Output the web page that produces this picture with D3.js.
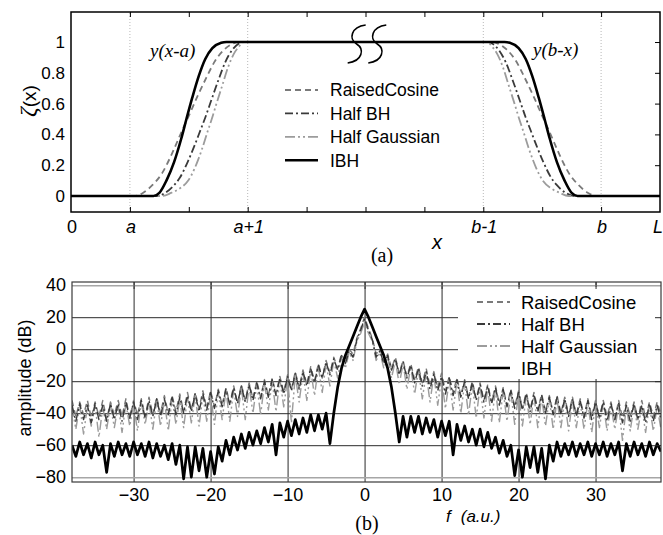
<!DOCTYPE html>
<html>
<head>
<meta charset="utf-8">
<script src="https://cdn.jsdelivr.net/npm/d3@7"></script>
<style>
  html, body { margin: 0; padding: 0; background: #fff; }
  svg { display: block; }
  text { font-family: "Liberation Sans", Arial, sans-serif; fill: #000; }
  .serif { font-family: "Liberation Serif", "Times New Roman", serif; }
</style>
</head>
<body>
<svg id="chart" width="663" height="535"></svg>
<script>
// ---------- panel (a): taper profiles, rising edge samples [x, zeta] ----------
const raisedCosineEdge = [[1.08,0],[1.22,0.02],[1.38,0.07],[1.55,0.15],[1.72,0.28],[1.88,0.42],[2.0,0.52],[2.15,0.65],[2.3,0.77],[2.45,0.88],[2.6,0.95],[2.75,0.99],[2.85,1]];
const halfBHEdge = [[1.45,0],[1.6,0.02],[1.75,0.07],[1.85,0.12],[1.98,0.22],[2.1,0.33],[2.2,0.43],[2.28,0.51],[2.38,0.62],[2.5,0.75],[2.62,0.87],[2.74,0.95],[2.85,0.99],[2.9,1]];
const halfGaussEdge = [[1.55,0],[1.7,0.02],[1.85,0.05],[1.99,0.10],[2.1,0.18],[2.22,0.30],[2.32,0.42],[2.39,0.50],[2.47,0.60],[2.57,0.72],[2.67,0.84],[2.76,0.92],[2.85,0.97],[2.93,1]];
const ibhEdge = [[1.40,0],[1.50,0.02],[1.62,0.10],[1.75,0.22],[1.87,0.37],[1.96,0.50],[2.06,0.64],[2.17,0.78],[2.28,0.89],[2.40,0.96],[2.55,0.995],[2.64,1]];

const profileTicks = [0, 1, 3, 7, 9, 10];
const profileTickLabels = ["0", "a", "a+1", "b-1", "b", "L"];
const profileMarkers = [1, 3, 7, 9];
const zetaTicks = [0, 0.2, 0.4, 0.6, 0.8, 1];
const L = 10;

// ---------- panel (b): spectra in dB, sampled at whole and half frequencies ----------
const freqWhole = d3.range(-38, 39);          // -38 ... 38
const freqHalf = freqWhole.map(f => f + 0.5); // -37.5 ... 38.5

const rcWhole = [
  -32,-33,-32,-33,-32,-33,-32,-31,-32,-31,   // -38..-29
  -30,-30,-29,-29,-28,-27,-27,-26,-26,-25,   // -28..-19
  -24,-23,-22,-21,-20,-19,-18,-17,-16,-14,   // -18..-9
  -13,-11,-9,-7,-5,-3,0,7,                   // -8..-1
  20,                                        // 0
  7,0,-3,-5,-7,-9,-11,-12,-14,-15,           // 1..10
  -17,-18,-19,-20,-21,-22,-23,-24,-25,-26,   // 11..20
  -27,-27,-28,-29,-29,-30,-30,-31,-31,-32,   // 21..30
  -32,-33,-32,-33,-33,-32,-33,-33            // 31..38
];
const rcHalf = [
  -42,-41,-43,-42,-44,-41,-42,-43,-41,-42,   // -37.5..-28.5
  -41,-40,-40,-39,-39,-38,-37,-37,-36,-35,   // -27.5..-18.5
  -34,-34,-32,-31,-30,-29,-28,-27,-25,-24,   // -17.5..-8.5
  -22,-20,-18,-15,-12,-8,-3,13,              // -7.5..-0.5
  13,-3,-8,-12,-15,-17,-19,-21,-23,-24,      // 0.5..9.5
  -26,-27,-29,-30,-31,-32,-33,-34,-35,-36,   // 10.5..19.5
  -37,-38,-38,-39,-40,-40,-41,-41,-42,-42,   // 20.5..29.5
  -43,-42,-44,-43,-42,-44,-43,-42,-41        // 30.5..38.5
];

const bhWhole = [
  -35,-34,-35,-34,-35,-34,-34,-33,-33,-32,
  -32,-31,-31,-30,-30,-29,-28,-28,-27,-26,
  -25,-24,-23,-22,-21,-20,-19,-18,-17,-15,
  -14,-12,-10,-8,-6,-4,-1,6,
  19,
  6,-1,-4,-6,-8,-10,-12,-14,-15,-17,
  -18,-19,-20,-21,-22,-23,-24,-25,-26,-27,
  -28,-28,-29,-30,-30,-31,-31,-32,-32,-33,
  -33,-34,-34,-35,-34,-35,-34,-35
];
const bhHalf = [
  -45,-44,-46,-44,-45,-44,-45,-43,-44,-43,
  -42,-42,-41,-41,-40,-39,-39,-38,-37,-36,
  -35,-34,-33,-32,-31,-30,-29,-28,-26,-25,
  -23,-21,-18,-16,-13,-9,-5,12,
  12,-5,-9,-13,-16,-18,-21,-23,-25,-26,
  -28,-29,-30,-31,-32,-33,-34,-35,-36,-37,
  -38,-39,-39,-40,-41,-41,-42,-42,-43,-44,
  -43,-45,-44,-46,-45,-44,-46,-45,-44
];

const hgWhole = [
  -36,-35,-36,-35,-36,-35,-35,-34,-34,-33,
  -33,-32,-32,-31,-31,-30,-29,-29,-28,-27,
  -26,-25,-24,-23,-22,-21,-20,-19,-18,-16,
  -15,-13,-11,-9,-7,-5,-2,5,
  17,
  5,-2,-5,-7,-9,-11,-13,-15,-16,-18,
  -19,-20,-21,-22,-23,-24,-25,-26,-27,-28,
  -29,-29,-30,-31,-31,-32,-32,-33,-33,-34,
  -34,-35,-35,-36,-35,-36,-35,-36
];
const hgHalf = [
  -50,-53,-48,-55,-50,-49,-52,-48,-51,-47,
  -50,-48,-51,-47,-49,-46,-48,-45,-47,-44,
  -45,-42,-44,-40,-41,-38,-39,-36,-46,-33,
  -32,-29,-27,-23,-18,-12,-7,10,
  10,-7,-12,-18,-22,-25,-28,-31,-33,-35,
  -37,-38,-40,-41,-43,-43,-45,-46,-45,-47,
  -48,-47,-49,-48,-50,-49,-51,-49,-50,-52,
  -49,-51,-50,-57,-51,-50,-52,-51,-50
];

const ibhWhole = [
  -60,-58,-59,-58,-60,-59,-58,-59,-58,-59,
  -58,-59,-60,-59,-60,-61,-61,-62,-64,-61,
  -57,-55,-53,-52,-51,-49,-47,-46,-45,-44,
  -43,-41,-41,-40,-40,-12,2,14,
  25,
  14,2,-12,-40,-42,-42,-42,-43,-44,-45,
  -45,-47,-48,-50,-50,-52,-55,-57,-60,-63,
  -61,-61,-62,-60,-58,-59,-58,-59,-58,-59,
  -58,-59,-58,-59,-58,-59,-58,-59
];
const ibhHalf = [
  -67,-66,-68,-66,-77,-67,-66,-67,-66,-67,
  -68,-67,-69,-72,-81,-80,-76,-80,-78,-70,
  -66,-63,-62,-60,-59,-58,-66,-55,-54,-53,
  -52,-51,-50,-59,-24,-4,8,20,
  20,8,-4,-24,-58,-55,-52,-53,-52,-55,
  -54,-66,-57,-58,-60,-61,-62,-65,-67,-79,
  -80,-74,-77,-81,-70,-67,-66,-67,-66,-67,
  -66,-67,-66,-76,-67,-66,-67,-66,-64
];

const spectrumXTicks = [-30, -20, -10, 0, 10, 20, 30];
const spectrumYTicks = [-80, -60, -40, -20, 0, 20, 40];

const seriesNames = ["RaisedCosine", "Half BH", "Half Gaussian", "IBH"];
const seriesStyle = {
  "RaisedCosine":  { stroke: "#7a7a7a", width: 1.8, dash: "6,4" },
  "Half BH":       { stroke: "#3a3a3a", width: 1.8, dash: "8,3,2,3" },
  "Half Gaussian": { stroke: "#9c9c9c", width: 1.8, dash: "10,3,2,3,2,3" },
  "IBH":           { stroke: "#000000", width: 2.6, dash: null }
};

// ---------- drawing ----------
const svg = d3.select("#chart");

function styleLine(sel, name, widthScale = 1) {
  const s = seriesStyle[name];
  sel.attr("fill", "none")
     .attr("stroke", s.stroke)
     .attr("stroke-width", s.width * widthScale)
     .attr("stroke-linejoin", "round")
     .attr("stroke-dasharray", s.dash);
}

// ===== Panel (a) =====
const xa = d3.scaleLinear().domain([0, L]).range([71, 660]);
const ya = d3.scaleLinear().domain([-0.104, 1.195]).range([212, 12]);
const ga = svg.append("g");

// dotted guides at a, a+1, b-1, b
ga.selectAll("line.guide").data(profileMarkers).join("line")
  .attr("x1", d => xa(d)).attr("x2", d => xa(d))
  .attr("y1", ya.range()[0]).attr("y2", ya.range()[1])
  .attr("stroke", "#b8b8b8").attr("stroke-width", 1).attr("stroke-dasharray", "1,2");

// full profile: 0 -> rising edge -> plateau -> mirrored falling edge -> 0
function fullProfile(edge) {
  const right = edge.map(([x, y]) => [L - x, y]).reverse();
  return [[0, 0], ...edge, ...right, [L, 0]];
}
const profiles = {
  "RaisedCosine": fullProfile(raisedCosineEdge),
  "Half BH": fullProfile(halfBHEdge),
  "Half Gaussian": fullProfile(halfGaussEdge),
  "IBH": fullProfile(ibhEdge)
};
const lineA = d3.line().x(d => xa(d[0])).y(d => ya(d[1])).curve(d3.curveMonotoneX);
seriesNames.forEach(name => {
  ga.append("path").datum(profiles[name]).attr("d", lineA).call(styleLine, name);
});

// axis-break marks on the plateau
[4.85, 5.2].forEach(xbk => {
  const cx = xa(xbk), top = 25, bot = 63;
  ga.append("path")
    .attr("d", `M${cx + 9},${top} C${cx - 6},${top + 2} ${cx - 8},${top + 14} ${cx},${(top + bot) / 2} S${cx + 6},${bot - 2} ${cx - 9},${bot}`)
    .attr("fill", "none").attr("stroke", "#000").attr("stroke-width", 1.6);
});

// frame
ga.append("rect")
  .attr("x", xa(0)).attr("y", ya(1.195))
  .attr("width", xa(L) - xa(0)).attr("height", ya(-0.104) - ya(1.195))
  .attr("fill", "none").attr("stroke", "#000").attr("stroke-width", 1.5);

// inward ticks: top/bottom every unit, right side on zeta ticks
const unitTicks = d3.range(1, L);
ga.append("g").attr("transform", `translate(0,${ya(-0.104)})`)
  .call(d3.axisTop(xa).tickValues(unitTicks).tickSize(5).tickFormat(""))
  .call(g => g.select(".domain").remove());
ga.append("g").attr("transform", `translate(0,${ya(1.195)})`)
  .call(d3.axisBottom(xa).tickValues(unitTicks).tickSize(5).tickFormat(""))
  .call(g => g.select(".domain").remove());
ga.append("g").attr("transform", `translate(${xa(L)},0)`)
  .call(d3.axisLeft(ya).tickValues(zetaTicks).tickSize(5).tickFormat(""))
  .call(g => g.select(".domain").remove());

// y tick labels
ga.append("g").attr("transform", `translate(${xa(0)},0)`)
  .call(d3.axisLeft(ya).tickValues(zetaTicks).tickSize(0).tickPadding(6).tickFormat(d => String(d)))
  .call(g => g.select(".domain").remove())
  .call(g => g.selectAll("text").attr("font-size", 17).attr("font-family", "Liberation Sans, Arial, sans-serif"));

// x tick labels
ga.append("g").selectAll("text").data(profileTicks).join("text")
  .attr("x", (d, i) => xa(d) + (i === profileTicks.length - 1 ? -2 : 1))
  .attr("y", 233)
  .attr("text-anchor", "middle")
  .attr("font-size", 18)
  .attr("font-style", (d, i) => i === 0 ? "normal" : "italic")
  .text((d, i) => profileTickLabels[i]);

// axis titles
ga.append("text").attr("x", 437).attr("y", 249).attr("text-anchor", "middle")
  .attr("font-size", 20).attr("font-style", "italic").text("x");
const zl = ga.append("text").attr("transform", "translate(36,101) rotate(-90)")
  .attr("text-anchor", "middle").attr("font-size", 19);
zl.append("tspan").attr("class", "serif").attr("font-style", "italic").attr("font-size", 24).text("ζ");
zl.append("tspan").text("(x)");
ga.append("text").attr("class", "serif").attr("x", 382).attr("y", 262)
  .attr("text-anchor", "middle").attr("font-size", 20).text("(a)");

// curve annotations
ga.append("text").attr("class", "serif").attr("x", 150).attr("y", 57)
  .attr("font-size", 19).attr("font-style", "italic").text("y(x-a)");
ga.append("text").attr("class", "serif").attr("x", 533).attr("y", 56)
  .attr("font-size", 19).attr("font-style", "italic").text("y(b-x)");

// legend (a)
const legA = ga.append("g");
seriesNames.forEach((name, i) => {
  const yy = 90 + i * 23.4;
  legA.append("line").attr("x1", 285).attr("x2", 318).attr("y1", yy).attr("y2", yy).call(styleLine, name);
  legA.append("text").attr("x", 330).attr("y", yy).attr("dy", "0.36em")
    .attr("font-size", 17.5).text(name);
});

// ===== Panel (b) =====
const xb = d3.scaleLinear().domain([-38, 38.5]).range([72, 661]);
const yb = d3.scaleLinear().domain([-83, 42]).range([482, 282]);
const gb = svg.append("g");
const W = xb.range()[1] - xb.range()[0], H = yb.range()[0] - yb.range()[1];

// grid
gb.append("g").attr("transform", `translate(0,${yb.range()[0]})`)
  .call(d3.axisBottom(xb).tickValues(spectrumXTicks).tickSize(-H).tickFormat(""))
  .call(g => g.select(".domain").remove())
  .call(g => g.selectAll("line").attr("stroke", "#2a2a2a").attr("stroke-width", 1));
gb.append("g").attr("transform", `translate(${xb.range()[0]},0)`)
  .call(d3.axisLeft(yb).tickValues(spectrumYTicks).tickSize(-W).tickFormat(""))
  .call(g => g.select(".domain").remove())
  .call(g => g.selectAll("line")
    .attr("stroke", d => (d === 40 || d === -80) ? "#a6a6a6" : "#2a2a2a")
    .attr("stroke-width", d => (d === 40 || d === -80) ? 1.6 : 1));

// spectra
function interleave(whole, half) {
  const pts = [];
  freqWhole.forEach((f, i) => {
    pts.push([f, whole[i]]);
    if (i < half.length) pts.push([freqHalf[i], half[i]]);
  });
  return pts;
}
const spectra = {
  "RaisedCosine": interleave(rcWhole, rcHalf),
  "Half BH": interleave(bhWhole, bhHalf),
  "Half Gaussian": interleave(hgWhole, hgHalf),
  "IBH": interleave(ibhWhole, ibhHalf)
};
svg.append("defs").append("clipPath").attr("id", "clipB")
  .append("rect").attr("x", xb.range()[0]).attr("y", yb.range()[1]).attr("width", W).attr("height", H);
const lineB = d3.line().x(d => xb(d[0])).y(d => yb(d[1]));
const dataB = gb.append("g").attr("clip-path", "url(#clipB)");
["Half Gaussian", "RaisedCosine", "Half BH", "IBH"].forEach(name => {
  dataB.append("path").datum(spectra[name]).attr("d", lineB)
    .call(styleLine, name, name === "IBH" ? 1.05 : 0.8);
});

// legend (b) on a white panel
gb.append("rect").attr("x", 458).attr("y", 287).attr("width", 202).attr("height", 92).attr("fill", "#fff");
seriesNames.forEach((name, i) => {
  const yy = 302 + i * 22;
  gb.append("line").attr("x1", 477).attr("x2", 510).attr("y1", yy).attr("y2", yy).call(styleLine, name);
  gb.append("text").attr("x", 521).attr("y", yy).attr("dy", "0.36em")
    .attr("font-size", 18.5).text(name);
});

// frame and inward ticks
gb.append("rect").attr("x", xb.range()[0]).attr("y", yb.range()[1]).attr("width", W).attr("height", H)
  .attr("fill", "none").attr("stroke", "#3a3a3a").attr("stroke-width", 1.2);
gb.append("g").attr("transform", `translate(0,${yb.range()[1]})`)
  .call(d3.axisBottom(xb).tickValues(spectrumXTicks).tickSize(7).tickFormat(""))
  .call(g => g.select(".domain").remove())
  .call(g => g.selectAll("line").attr("stroke", "#2a2a2a"));
gb.append("g").attr("transform", `translate(${xb.range()[1]},0)`)
  .call(d3.axisLeft(yb).tickValues(spectrumYTicks.filter(v => v > -80 && v < 40)).tickSize(6).tickFormat(""))
  .call(g => g.select(".domain").remove())
  .call(g => g.selectAll("line").attr("stroke", "#2a2a2a"));

// tick labels
gb.append("g").attr("transform", `translate(${xb.range()[0]},0)`)
  .call(d3.axisLeft(yb).tickValues(spectrumYTicks).tickSize(0).tickPadding(6))
  .call(g => g.select(".domain").remove())
  .call(g => g.selectAll("text").attr("font-size", 18).attr("font-family", "Liberation Sans, Arial, sans-serif"));
gb.append("g").attr("transform", `translate(0,${yb.range()[0]})`)
  .call(d3.axisBottom(xb).tickValues(spectrumXTicks).tickSize(0).tickPadding(6))
  .call(g => g.select(".domain").remove())
  .call(g => g.selectAll("text").attr("font-size", 18).attr("font-family", "Liberation Sans, Arial, sans-serif"));

// titles
gb.append("text").attr("transform", "translate(31,378) rotate(-90)")
  .attr("text-anchor", "middle").attr("font-size", 18).text("amplitude (dB)");
const fl = gb.append("text").attr("x", 446).attr("y", 522).attr("font-size", 17).attr("font-style", "italic");
fl.append("tspan").text("f");
fl.append("tspan").attr("dx", 10).text("(a.u.)");
gb.append("text").attr("class", "serif").attr("x", 367).attr("y", 530)
  .attr("text-anchor", "middle").attr("font-size", 20).text("(b)");
</script>
</body>
</html>
